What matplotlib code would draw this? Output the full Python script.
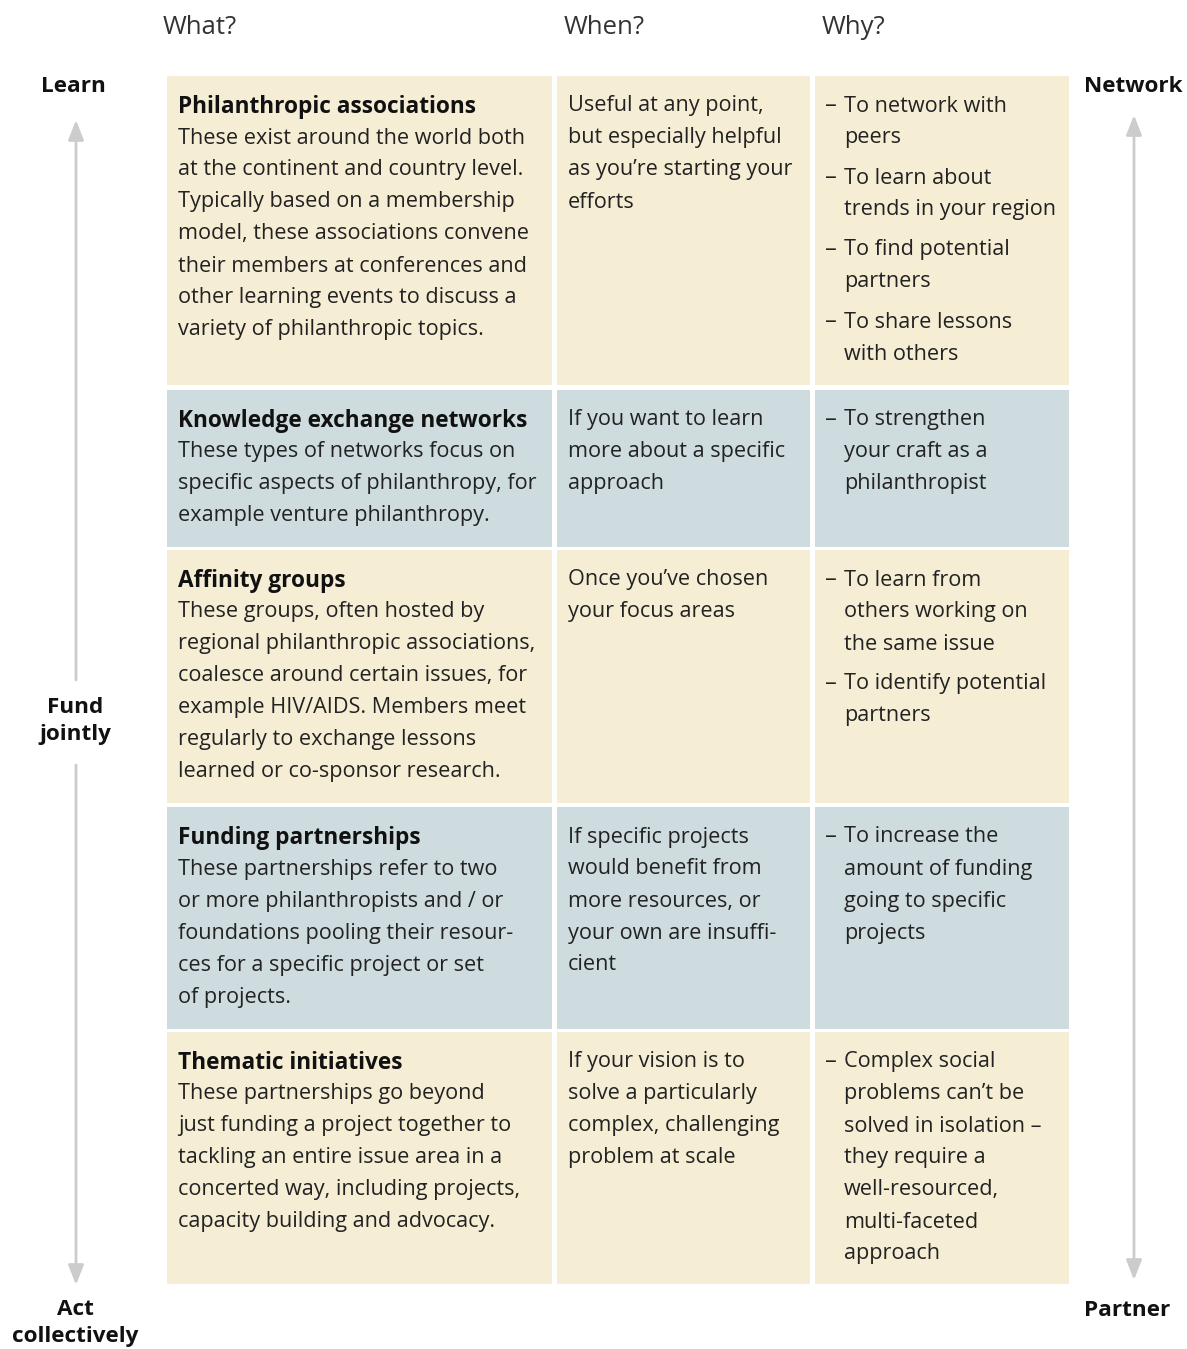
import matplotlib.pyplot as plt
from matplotlib.patches import Rectangle, FancyArrowPatch

plt.rcParams['font.family'] = ['Open Sans', 'DejaVu Sans']

# ---- content ----
headers = ["What?", "When?", "Why?"]

titles = ["Philanthropic associations", "Knowledge exchange networks",
          "Affinity groups", "Funding partnerships", "Thematic initiatives"]

descriptions = [
    ["These exist around the world both", "at the continent and country level.",
     "Typically based on a membership", "model, these associations convene",
     "their members at conferences and", "other learning events to discuss a",
     "variety of philanthropic topics."],
    ["These types of networks focus on", "specific aspects of philanthropy, for",
     "example venture philanthropy."],
    ["These groups, often hosted by", "regional philanthropic associations,",
     "coalesce around certain issues, for", "example HIV/AIDS. Members meet",
     "regularly to exchange lessons", "learned or co-sponsor research."],
    ["These partnerships refer to two", "or more philanthropists and / or",
     "foundations pooling their resour-", "ces for a specific project or set",
     "of projects."],
    ["These partnerships go beyond", "just funding a project together to",
     "tackling an entire issue area in a", "concerted way, including projects,",
     "capacity building and advocacy."],
]

when = [
    ["Useful at any point,", "but especially helpful", "as you\u2019re starting your", "efforts"],
    ["If you want to learn", "more about a specific", "approach"],
    ["Once you\u2019ve chosen", "your focus areas"],
    ["If specific projects", "would benefit from", "more resources, or",
     "your own are insuffi-", "cient"],
    ["If your vision is to", "solve a particularly", "complex, challenging",
     "problem at scale"],
]

why = [
    [["To network with", "peers"], ["To learn about", "trends in your region"],
     ["To find potential", "partners"], ["To share lessons", "with others"]],
    [["To strengthen", "your craft as a", "philanthropist"]],
    [["To learn from", "others working on", "the same issue"],
     ["To identify potential", "partners"]],
    [["To increase the", "amount of funding", "going to specific", "projects"]],
    [["Complex social", "problems can\u2019t be", "solved in isolation \u2013",
      "they require a", "well-resourced,", "multi-faceted", "approach"]],
]

row_colors = ["#F5EDD4", "#CEDCDF", "#F5EDD4", "#CEDCDF", "#F5EDD4"]

left_labels = ["Learn", "Fund\njointly", "Act\ncollectively"]
right_labels = ["Network", "Partner"]

# ---- layout (pixels) ----
W, H = 1187, 1349
col_x = [(167, 552), (557, 810), (815, 1069)]
row_y = [(76, 385), (390, 547), (550, 803), (807, 1029), (1032, 1284)]
lh = 32
fs = 15.6
txt = "#222222"

fig = plt.figure(figsize=(W / 100, H / 100), dpi=100)
ax = fig.add_axes([0, 0, 1, 1])
ax.set_xlim(0, W)
ax.set_ylim(H, 0)
ax.axis('off')

for (hx, h) in zip([163, 564, 822], headers):
    ax.text(hx, 27, h, fontsize=18.5, color="#333333", va='center', ha='left')

for r, (y0, y1) in enumerate(row_y):
    for (x0, x1) in col_x:
        ax.add_patch(Rectangle((x0, y0), x1 - x0, y1 - y0, color=row_colors[r], lw=0))
    top = y0 + 30
    ax.text(178, top + 1, titles[r], fontsize=16.3, fontweight='bold', color="#111111", va='center')
    for i, line in enumerate(descriptions[r]):
        ax.text(178, top + (i + 1) * lh, line, fontsize=fs, color=txt, va='center')
    for i, line in enumerate(when[r]):
        ax.text(568, top + i * lh, line, fontsize=fs, color=txt, va='center')
    y = top
    for bullet in why[r]:
        ax.text(825, y, "\u2013", fontsize=17, color=txt, va='center')
        for line in bullet:
            ax.text(844, y, line, fontsize=fs, color=txt, va='center')
            y += lh
        y += 8

# side arrows
grey = "#CCCCCC"
astyle = dict(color=grey, lw=2, mutation_scale=1, shrinkA=0, shrinkB=0)
ax.add_patch(FancyArrowPatch((76, 680), (76, 120),
                             arrowstyle='-|>,head_length=12,head_width=4.7', **astyle))
ax.add_patch(FancyArrowPatch((76, 765), (76, 1285),
                             arrowstyle='-|>,head_length=12,head_width=4.7', **astyle))
ax.add_patch(FancyArrowPatch((1134, 1280), (1134, 115),
                             arrowstyle='<|-|>,head_length=12,head_width=4.7', **astyle))

bold = dict(fontsize=16.2, fontweight='bold', color="#111111", ha='center', va='center',
            linespacing=1.35)
ax.text(73, 87, left_labels[0], **bold)
ax.text(75, 721, left_labels[1], **bold)
ax.text(75, 1323, left_labels[2], **bold)
ax.text(1133, 87, right_labels[0], **bold)
ax.text(1127, 1311, right_labels[1], **bold)

fig.savefig("out.png", dpi=100)
